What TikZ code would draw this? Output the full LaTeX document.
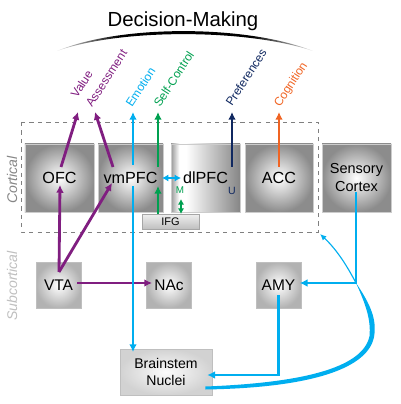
\documentclass[tikz,border=0pt]{standalone}
\usepackage{fontspec}
\setmainfont{Liberation Sans}
\usepackage{tikz}
\usetikzlibrary{calc,arrows.meta}
\definecolor{vpurple}{RGB}{128,30,128}
\definecolor{vcyan}{RGB}{0,174,239}
\definecolor{vgreen}{RGB}{0,160,80}
\definecolor{vnavy}{RGB}{16,40,96}
\definecolor{vorange}{RGB}{240,100,35}
\pgfdeclarehorizontalshading{dlshade}{100bp}{color(0bp)=(gray!80); color(25bp)=(gray!80); color(31bp)=(white); color(36bp)=(white); color(75bp)=(gray!95); color(100bp)=(gray!95)}
\pgfdeclarehorizontalshading{arcshade}{100bp}{color(0bp)=(gray!20); color(25bp)=(gray!20); color(37bp)=(black); color(63bp)=(black); color(75bp)=(gray!20); color(100bp)=(gray!20)}

\begin{document}
\begin{tikzpicture}[x=0.25mm,y=-0.25mm,
  cbox/.style={draw=gray!40, inner color=white, outer color=gray!90, minimum width=17.25mm, minimum height=17mm, font=\fontsize{11.5}{13}\selectfont},
  sbox/.style={draw=gray!50, inner color=white, outer color=gray!60, minimum width=11.25mm, minimum height=11.5mm, font=\fontsize{11}{13}\selectfont},
  conn/.style={line width=2pt, -{Latex[length=5.5pt,width=5.5pt]}},
  lab/.style={rotate=57, anchor=base west, inner sep=0pt, font=\fontsize{8.5}{10}\selectfont}]
\useasboundingbox (0,0) rectangle (400,404);

% decision-making arc
\node[font=\fontsize{14.5}{16}\selectfont, anchor=base] (title) at (183,26.7) {Decision-Making};
\shade[shading=arcshade]
  (57,51) .. controls (120,24.5) and (246,24.5) .. (313,51)
  .. controls (246,28.5) and (120,28.5) .. (57,51) -- cycle;

% outputs
\node[lab, text=vpurple] (lvalue) at (77,99) {Value};
\node[lab, text=vpurple] (lassess) at (92,108) {Assessment};
\node[lab, text=vcyan] (lemo) at (132,108) {Emotion};
\node[lab, text=vgreen] (lself) at (160,108) {Self-Control};
\node[lab, text=vnavy] (lpref) at (232,107) {Preferences};
\node[lab, text=vorange] (lcog) at (280,108) {Cognition};
\coordinate (tValue) at (78,112);
\coordinate (tAssess) at (95,112);
\coordinate (tEmo) at (133,112);
\coordinate (tSelf) at (158,112);
\coordinate (tPref) at (232,112);
\coordinate (tCog) at (279,112);

% cortical frame
\draw[gray, dashed, thin] (21,122) rectangle (318,232);
\coordinate (cortexSE) at (318,232);
\node[rotate=90, text=gray!95, font=\itshape\fontsize{10}{12}\selectfont] (cortical) at (12,180) {Cortical};
\node[rotate=90, text=gray!50, font=\itshape\fontsize{10}{12}\selectfont] (subcortical) at (12,286) {Subcortical};

% boxes
\node[cbox] (ofc) at (59.5,178) {OFC};
\node[cbox, minimum width=16.25mm] (vmpfc) at (130.5,178) {vmPFC};
\node[cbox, shading=dlshade] (dlpfc) at (205.5,178) {dlPFC};
\node[cbox, minimum width=17mm] (acc) at (279,178) {ACC};
\node[cbox, align=center, font=\fontsize{10.3}{12.8}\selectfont] (sens) at (356.5,178) {Sensory\\Cortex};
\node[draw=gray!70, top color=gray!12, bottom color=gray!50, minimum width=14.25mm, minimum height=3.75mm, inner sep=0pt, font=\fontsize{7.8}{9}\selectfont] (ifg) at (170.5,221.5) {IFG};
\node[sbox] (vta) at (58.5,285) {VTA};
\node[sbox] (nac) at (169,285) {NAc};
\node[sbox] (amy) at (278.5,285) {AMY};
\node[draw=gray!50, inner color=gray!3, outer color=gray!35, minimum width=23mm, minimum height=11.5mm, align=center, font=\fontsize{10}{11.8}\selectfont] (bsn) at (166,372) {Brainstem\\Nuclei};
\node[text=vgreen, font=\fontsize{7}{8}\selectfont, inner sep=0pt] (mlab) at (180,190) {M};
\node[text=vnavy, font=\fontsize{7.5}{8}\selectfont, inner sep=0pt] (ulab) at (232,190.5) {U};

% connections
\draw[conn, vpurple] ($(ofc.center)+(1.5,-11)$) -- (tValue);
\draw[conn, vpurple] ($(vmpfc.center)+(-17.5,-11)$) -- (tAssess);
\draw[conn, vpurple] ($(vta.center)+(0.5,-13)$) -- ($(ofc.center)+(0.5,7)$);
\draw[conn, vpurple] ($(vta.center)+(0.5,-13)$) -- ($(vmpfc.center)+(-18.5,5)$);
\draw[conn, vpurple] ($(vta.center)+(18.5,-2)$) -- ($(nac.center)+(-17,-2)$);
\draw[conn, vcyan] ($(vmpfc.center)+(2.5,-13)$) -- (tEmo);
\draw[conn, vcyan] ($(vmpfc.center)+(2.5,8)$) -- ($(bsn.center)+(-33,-20)$);
\draw[conn, vgreen] ($(vmpfc.center)+(27.5,-11)$) -- (tSelf);
\draw[conn, vgreen] ($(ifg.center)+(-12.5,-7.5)$) -- ($(vmpfc.center)+(27.5,8)$);
\draw[vgreen, line width=1.5pt, {Latex[length=4pt,width=4.5pt]}-{Latex[length=4pt,width=4.5pt]}] ($(dlpfc.center)+(-24.5,21)$) -- ($(ifg.center)+(10.5,-7.5)$);
\draw[vcyan, line width=1.6pt, {Latex[length=4.5pt,width=5pt]}-{Latex[length=4.5pt,width=5pt]}] ($(vmpfc.center)+(31.5,0)$) -- ($(dlpfc.center)+(-24.5,0)$);
\draw[conn, vnavy] ($(dlpfc.center)+(26.5,-11)$) -- (tPref);
\draw[conn, vorange] ($(acc.center)+(0,-11)$) -- (tCog);

\coordinate (jn) at (356,283);
\draw[conn, vcyan] ($(sens.center)+(-0.5,14)$) -- (jn) -- ($(amy.east)+(-1.5,-2)$);
\draw[conn, vcyan] ($(amy.center)+(0,10)$) |- ($(bsn.east)+(-5,3)$);
\draw[vcyan, line width=0.8pt, -{Latex[length=4.5pt,width=4pt]}] (jn) .. controls (345,262) and (335,248) .. ($(cortexSE)+(2,2)$);
\fill[vcyan] (jn) .. controls (371,305) and (377,320) .. (374,337)
  .. controls (367,372) and (300,388) .. ($(bsn.east)+(-7,17.5)$)
  -- ($(bsn.east)+(-7,14.5)$)
  .. controls (298,383) and (363,369) .. (369.5,336)
  .. controls (371,320) and (366,305) .. (jn) -- cycle;
\end{tikzpicture}
\end{document}
